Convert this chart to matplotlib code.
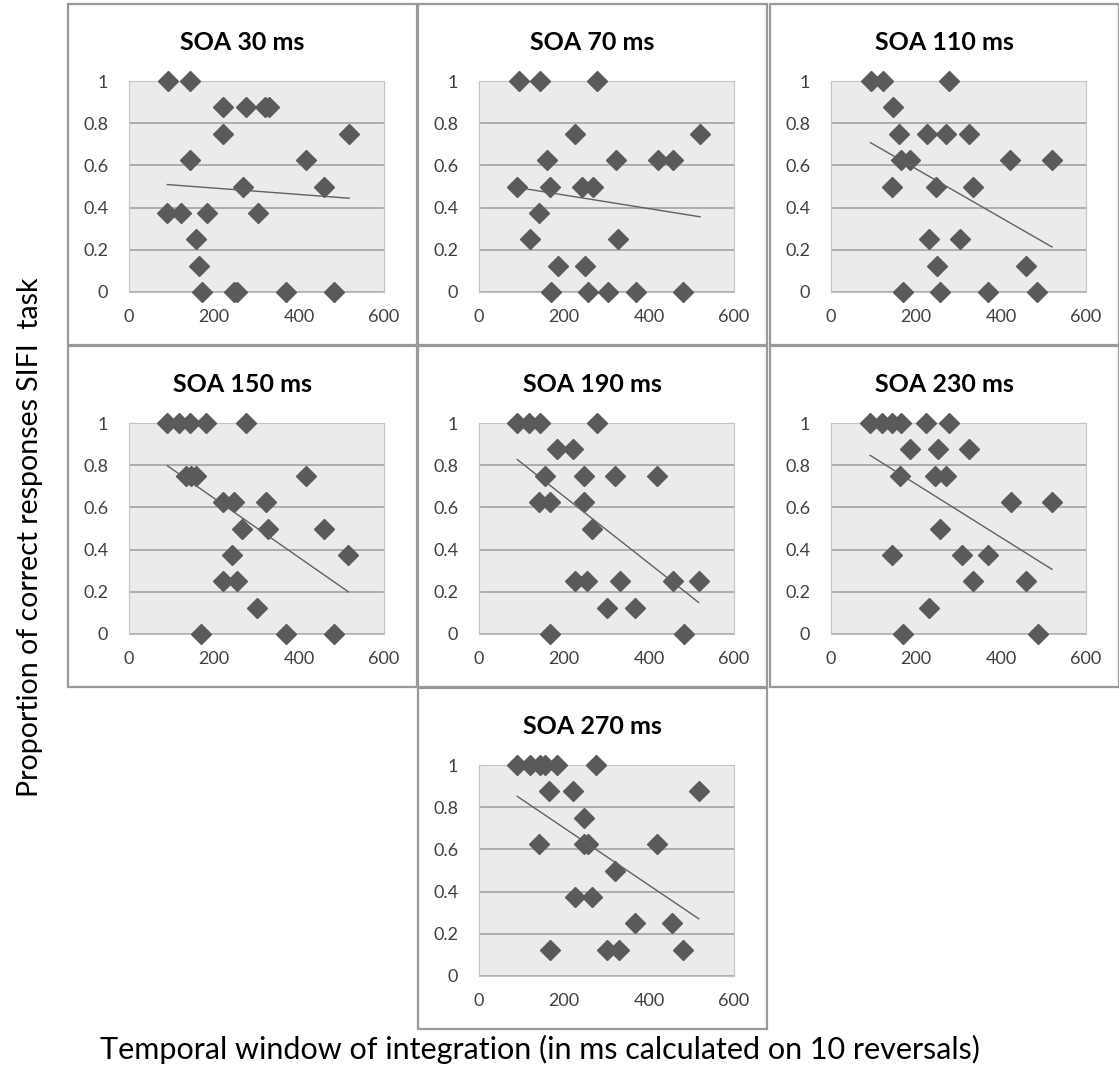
import numpy as np
import matplotlib
matplotlib.use("Agg")
import matplotlib.pyplot as plt
from matplotlib.patches import Rectangle

plt.rcParams['font.family'] = ['Lato', 'DejaVu Sans']

# --- data (x = temporal window in ms, y = proportion correct) ---
titles = ["SOA 30 ms", "SOA 70 ms", "SOA 110 ms", "SOA 150 ms",
          "SOA 190 ms", "SOA 230 ms", "SOA 270 ms"]

x_30 = [92, 143, 221, 275, 320, 330, 221, 518, 143, 417, 268, 459,
        90, 122, 183, 304, 157, 165, 171, 247, 255, 370, 482]
y_30 = [1, 1, .875, .875, .875, .875, .75, .75, .625, .625, .5, .5,
        .375, .375, .375, .375, .25, .125, 0, 0, 0, 0, 0]

x_70 = [94, 143, 277, 227, 520, 161, 323, 421, 457, 89, 166, 243,
        268, 141, 120, 328, 186, 249, 169, 257, 304, 369, 481]
y_70 = [1, 1, 1, .75, .75, .625, .625, .625, .625, .5, .5, .5,
        .5, .375, .25, .25, .125, .125, 0, 0, 0, 0, 0]

x_110 = [93, 122, 278, 145, 161, 226, 271, 325, 165, 186, 421, 520,
         143, 247, 333, 230, 304, 249, 459, 170, 256, 369, 484]
y_110 = [1, 1, 1, .875, .75, .75, .75, .75, .625, .625, .625, .625,
         .5, .5, .5, .25, .25, .125, .125, 0, 0, 0, 0]

x_150 = [90, 118, 143, 182, 275, 133, 145, 157, 417, 220, 247, 322,
         267, 328, 459, 243, 516, 221, 255, 302, 170, 369, 482]
y_150 = [1, 1, 1, 1, 1, .75, .75, .75, .75, .625, .625, .625,
         .5, .5, .5, .375, .375, .25, .25, .125, 0, 0, 0]

x_190 = [90, 117, 143, 277, 183, 221, 156, 247, 321, 419, 140, 166,
         247, 267, 226, 255, 331, 456, 517, 302, 366, 168, 483]
y_190 = [1, 1, 1, 1, .875, .875, .75, .75, .75, .75, .625, .625,
         .625, .5, .25, .25, .25, .25, .25, .125, .125, 0, 0]

x_230 = [92, 120, 143, 165, 223, 278, 186, 251, 324, 162, 245, 270,
         424, 520, 256, 143, 308, 369, 333, 459, 230, 170, 486]
y_230 = [1, 1, 1, 1, 1, 1, .875, .875, .875, .75, .75, .75,
         .625, .625, .5, .375, .375, .375, .25, .25, .125, 0, 0]

x_270 = [90, 120, 143, 156, 183, 275, 164, 221, 517, 246, 140, 246,
         257, 419, 321, 226, 267, 366, 454, 168, 300, 330, 479]
y_270 = [1, 1, 1, 1, 1, 1, .875, .875, .875, .75, .625, .625,
         .625, .625, .5, .375, .375, .25, .25, .125, .125, .125, .125]

xs = [x_30, x_70, x_110, x_150, x_190, x_230, x_270]
ys = [y_30, y_70, y_110, y_150, y_190, y_230, y_270]

x_ticks = [0, 200, 400, 600]
y_ticks = [0, 0.2, 0.4, 0.6, 0.8, 1]
y_ticklabels = ["0", "0.2", "0.4", "0.6", "0.8", "1"]

# --- layout (pixels) ---
W, H = 1119, 1069
panels = [(68, 4), (418, 4), (770, 4),
          (68, 346), (418, 346), (770, 346),
          (418, 688)]
panel_w, panel_h = 349, 341

fig = plt.figure(figsize=(W / 100, H / 100), dpi=100)

marker_col = '#5a5a5a'
for i, (pl, pt) in enumerate(panels):
    # panel frame
    fig.add_artist(Rectangle((pl / W, 1 - (pt + panel_h) / H), panel_w / W, panel_h / H,
                             transform=fig.transFigure, fill=False,
                             edgecolor='#9a9a9a', linewidth=1.6))

    ax_l, ax_t, ax_w, ax_h = pl + 61, pt + 77, 255, 211
    ax = fig.add_axes([ax_l / W, 1 - (ax_t + ax_h) / H, ax_w / W, ax_h / H])
    ax.set_facecolor('#ebebeb')
    for s in ax.spines.values():
        s.set_color('#c4c4c4')
        s.set_linewidth(0.8)

    x = np.array(xs[i], dtype=float)
    y = np.array(ys[i], dtype=float)

    ax.set_xlim(0, 600)
    ax.set_ylim(0, 1)
    ax.set_xticks(x_ticks)
    ax.set_yticks(y_ticks)
    ax.set_yticklabels(y_ticklabels)
    ax.tick_params(length=0, labelsize=13, labelcolor='#404040')
    ax.tick_params(axis='x', pad=12)
    ax.tick_params(axis='y', pad=15)
    ax.yaxis.grid(True, color='#a8a8a8', linewidth=1.3)
    ax.set_axisbelow(True)

    ax.plot(x, y, linestyle='none', marker='D', markersize=10,
            color=marker_col, clip_on=False, zorder=3)

    # linear trendline (least squares), drawn over the data range
    m, b = np.polyfit(x, y, 1)
    xt = np.array([x.min(), x.max()])
    ax.plot(xt, m * xt + b, color='#606060', linewidth=1.0, zorder=4)

    fig.text((pl + panel_w / 2) / W, 1 - (pt + 38) / H, titles[i],
             ha='center', va='center', fontsize=18, fontweight='bold')

fig.text(30 / W, 1 - 537 / H, "Proportion of correct responses SIFI  task",
         rotation=90, ha='center', va='center', fontsize=20.5)
fig.text(540 / W, 1 - 1049 / H,
         "Temporal window of integration (in ms calculated on 10 reversals)",
         ha='center', va='center', fontsize=22)

fig.savefig("out.png", dpi=100)
